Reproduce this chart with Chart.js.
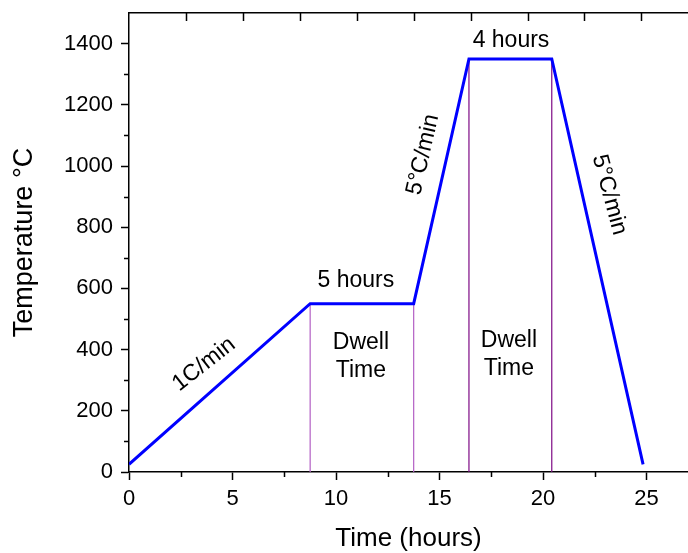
<!DOCTYPE html>
<html>
<head>
<meta charset="utf-8">
<style>
  html, body { margin: 0; padding: 0; background: #ffffff; }
  #wrap { width: 688px; height: 553px; }
</style>
<script src="https://cdn.jsdelivr.net/npm/chart.js@4/dist/chart.umd.min.js"></script>
</head>
<body>
<div id="wrap"><canvas id="chart" width="688" height="553"></canvas></div>
<script>
// Firing profile: time in hours, temperature in °C
const profileTime = [0, 8.75, 13.75, 16.42, 20.42, 24.83];
const profileTemp = [25, 550, 550, 1350, 1350, 25];

// Start and end of the two dwell (hold) stages
const dwellTimes = [8.75, 13.75, 16.42, 20.42];
const dwellTemps = [550, 550, 1350, 1350];

// Tick values
const xMajorTicks = [0, 5, 10, 15, 20, 25];
const xMinorTicks = [2.5, 7.5, 12.5, 17.5, 22.5];
const yMajorTicks = [0, 200, 400, 600, 800, 1000, 1200, 1400];
const yMinorTicks = [100, 300, 500, 700, 900, 1100, 1300];
const topTicks = [2.75, 5.5, 8.25, 11, 13.75, 16.5, 19.25, 22, 24.75];

// Annotation texts and where they sit (data units), with rotation in degrees
const noteTexts = ['1C/min', '5 hours', ['Dwell', 'Time'], '5°C/min', '4 hours', ['Dwell', 'Time'], '5°C/min'];
const noteX = [3.62, 10.96, 11.2, 14.2, 18.45, 18.35, 23.2];
const noteY = [352, 624, 378, 1037, 1411, 384, 906];
const noteAngle = [-38, 0, 0, -77, 0, 0, 75];

const FONT = "'Liberation Sans', Arial, Helvetica, sans-serif";

const profileData = profileTime.map((t, i) => ({ x: t, y: profileTemp[i] }));
const dwellColors = ['#b35fc4', '#b35fc4', '#7d0a85', '#7d0a85'];
const dwellSets = dwellTimes.map((t, i) => ({
  data: [{ x: t, y: 0 }, { x: t, y: dwellTemps[i] }],
  borderColor: dwellColors[i],
  borderWidth: 1.2,
  pointRadius: 0,
  showLine: true,
  order: 2
}));

const extrasPlugin = {
  id: 'extras',
  afterDraw(chart) {
    const ctx = chart.ctx;
    const xs = chart.scales.x, ys = chart.scales.y, xt = chart.scales.x2;
    const area = chart.chartArea;
    ctx.save();
    ctx.strokeStyle = '#000';
    ctx.lineWidth = 1.5;
    ctx.beginPath();
    // minor ticks on the bottom axis (outward)
    xMinorTicks.forEach(v => {
      const px = Math.round(xs.getPixelForValue(v)) + 0.5;
      ctx.moveTo(px, area.bottom);
      ctx.lineTo(px, area.bottom + 5);
    });
    // minor ticks on the left axis (outward)
    yMinorTicks.forEach(v => {
      const py = Math.round(ys.getPixelForValue(v)) + 0.5;
      ctx.moveTo(area.left, py);
      ctx.lineTo(area.left - 5, py);
    });
    // top axis ticks (inward)
    topTicks.forEach(v => {
      const px = Math.round(xt.getPixelForValue(v)) + 0.5;
      ctx.moveTo(px, area.top);
      ctx.lineTo(px, area.top + 8);
    });
    ctx.stroke();

    // annotations
    ctx.fillStyle = '#000';
    ctx.font = '23px ' + FONT;
    ctx.textAlign = 'center';
    ctx.textBaseline = 'middle';
    noteTexts.forEach((txt, i) => {
      const px = xs.getPixelForValue(noteX[i]);
      const py = ys.getPixelForValue(noteY[i]);
      ctx.save();
      ctx.translate(px, py);
      ctx.rotate(noteAngle[i] * Math.PI / 180);
      const lines = Array.isArray(txt) ? txt : [txt];
      const lh = 28;
      lines.forEach((ln, k) => {
        ctx.fillText(ln, 0, (k - (lines.length - 1) / 2) * lh);
      });
      ctx.restore();
    });
    ctx.restore();
  }
};

new Chart(document.getElementById('chart'), {
  type: 'scatter',
  data: {
    datasets: [
      {
        data: profileData,
        borderColor: '#0000ff',
        borderWidth: 3,
        pointRadius: 0,
        showLine: true,
        tension: 0,
        order: 1
      },
      ...dwellSets
    ]
  },
  options: {
    responsive: false,
    animation: false,
    devicePixelRatio: 1,
    layout: { padding: { left: 0, right: 0, top: 13, bottom: 0 } },
    plugins: { legend: { display: false }, tooltip: { enabled: false } },
    scales: {
      x: {
        type: 'linear',
        position: 'bottom',
        min: 0,
        max: 27,
        afterBuildTicks: s => { s.ticks = xMajorTicks.map(v => ({ value: v })); },
        afterFit: s => { s.height = 81; s.paddingLeft = 0; s.paddingRight = 0; },
        ticks: {
          color: '#000',
          font: { family: FONT, size: 22 },
          padding: 6,
          maxRotation: 0,
          callback: v => String(v)
        },
        grid: { drawOnChartArea: false, tickLength: 8, tickColor: '#000', tickWidth: 1.5 },
        border: { color: '#000', width: 1.5 },
        title: {
          display: true,
          text: 'Time (hours)',
          color: '#000',
          font: { family: FONT, size: 26, lineHeight: 1 },
          padding: { top: 0, bottom: 1 }
        }
      },
      x2: {
        type: 'linear',
        position: 'top',
        min: 0,
        max: 27,
        afterBuildTicks: s => { s.ticks = topTicks.map(v => ({ value: v })); },
        afterFit: s => { s.height = 0; s.paddingLeft = 0; s.paddingRight = 0; },
        ticks: { display: false },
        grid: { drawOnChartArea: false, drawTicks: false },
        border: { color: '#000', width: 1.5 }
      },
      y: {
        type: 'linear',
        min: 0,
        max: 1500,
        afterBuildTicks: s => { s.ticks = yMajorTicks.map(v => ({ value: v })); },
        afterFit: s => { s.width = 129; s.paddingTop = 0; s.paddingBottom = 0; },
        ticks: {
          color: '#000',
          font: { family: FONT, size: 22 },
          padding: 8,
          callback: v => String(v)
        },
        grid: { drawOnChartArea: false, tickLength: 8, tickColor: '#000', tickWidth: 1.5 },
        border: { color: '#000', width: 1.5 },
        title: {
          display: true,
          text: 'Temperature °C',
          color: '#000',
          font: { family: FONT, size: 27, lineHeight: 1 },
          padding: { top: 11, bottom: 0 }
        }
      }
    }
  },
  plugins: [extrasPlugin]
});
</script>
</body>
</html>
